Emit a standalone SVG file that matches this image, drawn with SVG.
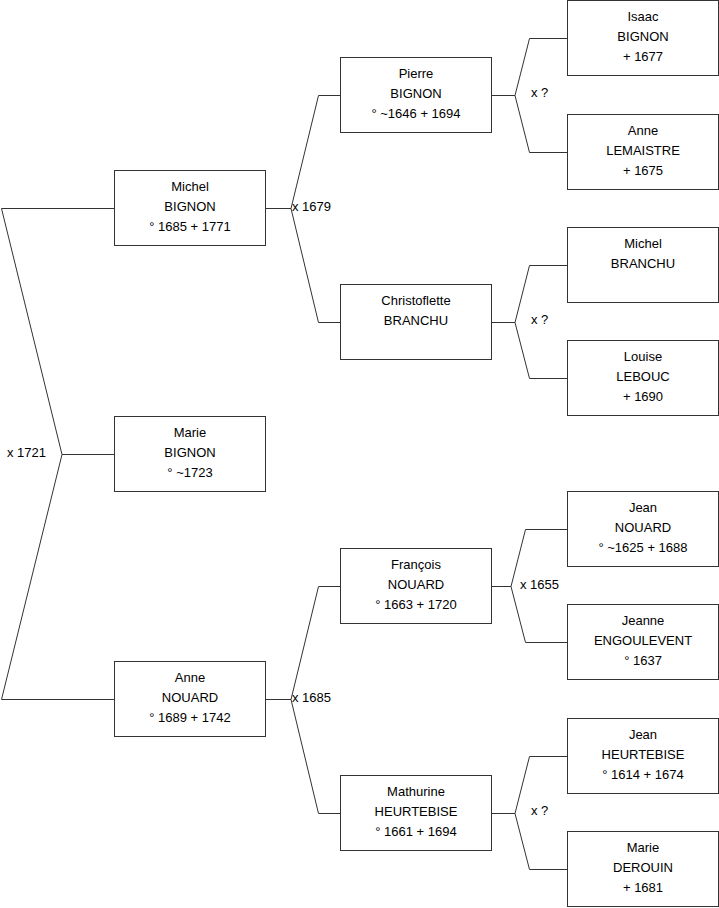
<svg xmlns="http://www.w3.org/2000/svg" width="719" height="908" viewBox="0 0 719 908">
<style>
.b{fill:#fff;stroke:#333;stroke-width:1}
.c{fill:none;stroke:#333;stroke-width:1}
text{font-family:"Liberation Sans",Arial,sans-serif;font-size:13px;fill:#000}
.n text{text-anchor:middle}
</style>
<rect width="719" height="908" fill="#fff"/>
<g id="connectors">
<path class="c" d="M114.5,208.5H1.5L62,454.5L1.5,699.5H114.5M62,454.5H114.5"/>
<path class="c" d="M265.5,208.5H291L318.5,95.5H340.5M291,208.5L318.5,322.5H340.5"/>
<path class="c" d="M265.5,699.5H291L318.5,586.5H340.5M291,699.5L318.5,813.5H340.5"/>
<path class="c" d="M491.5,95.5H515L529.5,38.5H567.5M515,95.5L529.5,152.5H567.5"/>
<path class="c" d="M491.5,322.5H515L529.5,265.5H567.5M515,322.5L529.5,378.5H567.5"/>
<path class="c" d="M491.5,586.5H511L525.5,529.5H567.5M511,586.5L525.5,642.5H567.5"/>
<path class="c" d="M491.5,813.5H515L529.5,756.5H567.5M515,813.5L529.5,869.5H567.5"/>
<text x="7" y="457">x 1721</text>
<text x="292" y="211">x 1679</text>
<text x="292" y="702">x 1685</text>
<text x="531" y="97">x ?</text>
<text x="531" y="324">x ?</text>
<text x="520" y="589">x 1655</text>
<text x="531" y="815">x ?</text>
</g>
<g id="michel-bignon" class="n"><rect class="b" x="114.5" y="170.5" width="151" height="75"/><text x="190" y="191">Michel</text><text x="190" y="211">BIGNON</text><text x="190" y="231">° 1685 + 1771</text></g>
<g id="marie-bignon" class="n"><rect class="b" x="114.5" y="416.5" width="151" height="75"/><text x="190" y="437">Marie</text><text x="190" y="457">BIGNON</text><text x="190" y="477">° ~1723</text></g>
<g id="anne-nouard" class="n"><rect class="b" x="114.5" y="661.5" width="151" height="75"/><text x="190" y="682">Anne</text><text x="190" y="702">NOUARD</text><text x="190" y="722">° 1689 + 1742</text></g>
<g id="pierre-bignon" class="n"><rect class="b" x="340.5" y="57.5" width="151" height="75"/><text x="416" y="78">Pierre</text><text x="416" y="98">BIGNON</text><text x="416" y="118">° ~1646 + 1694</text></g>
<g id="christoflette-branchu" class="n"><rect class="b" x="340.5" y="284.5" width="151" height="75"/><text x="416" y="305">Christoflette</text><text x="416" y="325">BRANCHU</text></g>
<g id="francois-nouard" class="n"><rect class="b" x="340.5" y="548.5" width="151" height="75"/><text x="416" y="569">François</text><text x="416" y="589">NOUARD</text><text x="416" y="609">° 1663 + 1720</text></g>
<g id="mathurine-heurtebise" class="n"><rect class="b" x="340.5" y="775.5" width="151" height="75"/><text x="416" y="796">Mathurine</text><text x="416" y="816">HEURTEBISE</text><text x="416" y="836">° 1661 + 1694</text></g>
<g id="isaac-bignon" class="n"><rect class="b" x="567.5" y="0.5" width="151" height="75"/><text x="643" y="21">Isaac</text><text x="643" y="41">BIGNON</text><text x="643" y="61">+ 1677</text></g>
<g id="anne-lemaistre" class="n"><rect class="b" x="567.5" y="114.5" width="151" height="75"/><text x="643" y="135">Anne</text><text x="643" y="155">LEMAISTRE</text><text x="643" y="175">+ 1675</text></g>
<g id="michel-branchu" class="n"><rect class="b" x="567.5" y="227.5" width="151" height="75"/><text x="643" y="248">Michel</text><text x="643" y="268">BRANCHU</text></g>
<g id="louise-lebouc" class="n"><rect class="b" x="567.5" y="340.5" width="151" height="75"/><text x="643" y="361">Louise</text><text x="643" y="381">LEBOUC</text><text x="643" y="401">+ 1690</text></g>
<g id="jean-nouard" class="n"><rect class="b" x="567.5" y="491.5" width="151" height="75"/><text x="643" y="512">Jean</text><text x="643" y="532">NOUARD</text><text x="643" y="552">° ~1625 + 1688</text></g>
<g id="jeanne-engoulevent" class="n"><rect class="b" x="567.5" y="604.5" width="151" height="75"/><text x="643" y="625">Jeanne</text><text x="643" y="645">ENGOULEVENT</text><text x="643" y="665">° 1637</text></g>
<g id="jean-heurtebise" class="n"><rect class="b" x="567.5" y="718.5" width="151" height="75"/><text x="643" y="739">Jean</text><text x="643" y="759">HEURTEBISE</text><text x="643" y="779">° 1614 + 1674</text></g>
<g id="marie-derouin" class="n"><rect class="b" x="567.5" y="831.5" width="151" height="75"/><text x="643" y="852">Marie</text><text x="643" y="872">DEROUIN</text><text x="643" y="892">+ 1681</text></g>
</svg>
